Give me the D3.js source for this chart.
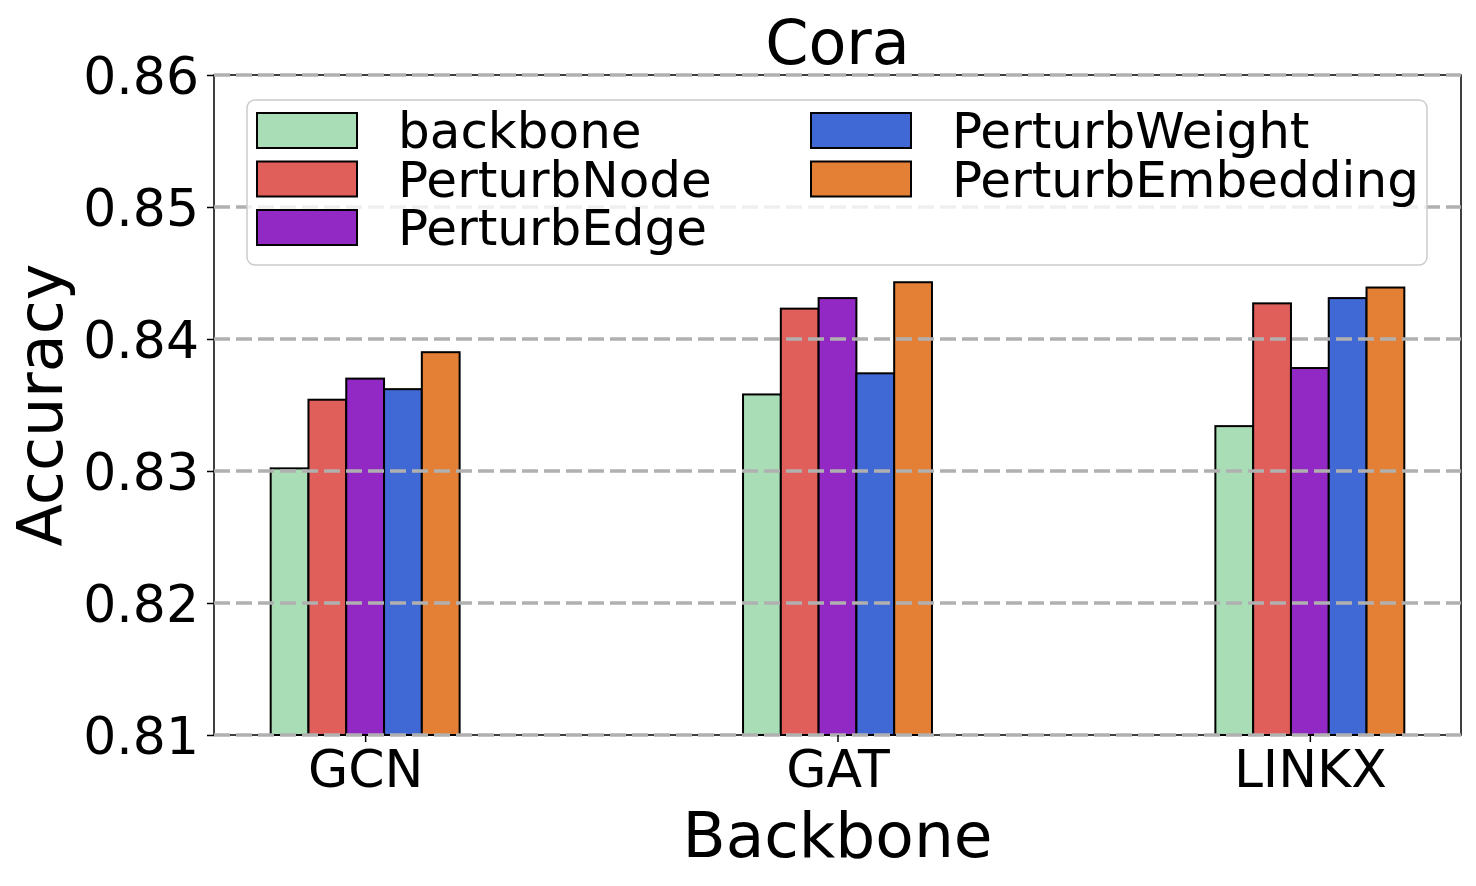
<!DOCTYPE html>
<html lang="en">
<head>
<meta charset="utf-8">
<title>Cora</title>
<script src="https://cdn.jsdelivr.net/npm/d3@7/dist/d3.min.js"></script>
<style>
  body { margin: 0; background: #fff; }
  svg text { font-family: "DejaVu Sans", sans-serif; fill: #000; }
</style>
</head>
<body>
<script>
// data
var backbones = ["GCN", "GAT", "LINKX"];
var methods = ["backbone", "PerturbNode", "PerturbEdge", "PerturbWeight", "PerturbEmbedding"];
var colors = ["#a8ddb5", "#e15f5a", "#9329c5", "#4169d6", "#e38035"];
var backboneVals = [0.8302, 0.8358, 0.8334];
var nodeVals = [0.8354, 0.8423, 0.8427];
var edgeVals = [0.8370, 0.8431, 0.8378];
var weightVals = [0.8362, 0.8374, 0.8431];
var embedVals = [0.8390, 0.8443, 0.8439];
var yTicks = [0.81, 0.82, 0.83, 0.84, 0.85, 0.86];

var series = [backboneVals, nodeVals, edgeVals, weightVals, embedVals];

var w = 1476, h = 886;
var plotL = 214, plotR = 1461, plotT = 75, plotB = 735;
var barW = 0.08;

var svg = d3.select("body").append("svg")
    .attr("width", w)
    .attr("height", h);

var x = d3.scaleLinear().domain([-0.32, 2.32]).range([plotL, plotR]);
var y = d3.scaleLinear().domain([0.81, 0.86]).range([plotB, plotT]);

// bars
series.forEach(function(vals, j) {
  svg.append("g").selectAll("rect")
    .data(vals)
    .enter()
    .append("rect")
    .attr("x", function(d, i) { return x(i + (j - 2.5) * barW); })
    .attr("width", x(barW) - x(0))
    .attr("y", function(d) { return y(d); })
    .attr("height", function(d) { return y(0.81) - y(d); })
    .attr("fill", colors[j])
    .attr("stroke", "#000")
    .attr("stroke-width", 2);
});

// frame
svg.append("rect")
  .attr("x", plotL).attr("y", plotT)
  .attr("width", plotR - plotL).attr("height", plotB - plotT)
  .attr("fill", "none").attr("stroke", "#000").attr("stroke-width", 1.5);

// grid (drawn over bars)
svg.append("g").selectAll("line")
  .data(yTicks)
  .enter()
  .append("line")
  .attr("x1", plotL).attr("x2", plotR)
  .attr("y1", function(d) { return y(d); })
  .attr("y2", function(d) { return y(d); })
  .attr("stroke", "#b0b0b0")
  .attr("stroke-width", 3.5)
  .attr("stroke-dasharray", "16,6");

// axes
var yAxis = d3.axisLeft(y).tickValues(yTicks).tickSize(7).tickPadding(8)
  .tickFormat(d3.format(".2f"));
var gy = svg.append("g").attr("transform", "translate(" + plotL + ",0)").call(yAxis);
gy.select(".domain").remove();
gy.selectAll("line").attr("stroke", "#000").attr("stroke-width", 1.5);
gy.selectAll("text").style("font-size", "52px").attr("dy", "0.36em")
  .style("font-family", "'DejaVu Sans', sans-serif");

var xAxis = d3.axisBottom(x).tickValues([0, 1, 2]).tickSize(7).tickPadding(8)
  .tickFormat(function(d) { return backbones[d]; });
var gx = svg.append("g").attr("transform", "translate(0," + plotB + ")").call(xAxis);
gx.select(".domain").remove();
gx.selectAll("line").attr("stroke", "#000").attr("stroke-width", 1.5);
gx.selectAll("text").style("font-size", "52px").attr("dy", "0.72em")
  .style("font-family", "'DejaVu Sans', sans-serif");

// titles
svg.append("text")
  .attr("x", (plotL + plotR) / 2).attr("y", 64)
  .attr("text-anchor", "middle")
  .style("font-size", "62px")
  .text("Cora");

svg.append("text")
  .attr("x", (plotL + plotR) / 2).attr("y", 857)
  .attr("text-anchor", "middle")
  .style("font-size", "63px")
  .text("Backbone");

svg.append("text")
  .attr("transform", "translate(62," + ((plotT + plotB) / 2) + ") rotate(-90)")
  .attr("text-anchor", "middle")
  .style("font-size", "62px")
  .text("Accuracy");

// legend
var legend = svg.append("g");
legend.append("rect")
  .attr("x", 247).attr("y", 100)
  .attr("width", 1180).attr("height", 165)
  .attr("rx", 8).attr("ry", 8)
  .attr("fill", "#fff").attr("fill-opacity", 0.8)
  .attr("stroke", "#cccccc").attr("stroke-width", 1.5);

var colX = [257, 811];
var textX = [398, 952];
methods.forEach(function(m, j) {
  var col = j < 3 ? 0 : 1;
  var row = j < 3 ? j : j - 3;
  var cy = 113 + row * 48.5;
  legend.append("rect")
    .attr("x", colX[col]).attr("y", cy)
    .attr("width", 100).attr("height", 35)
    .attr("fill", colors[j])
    .attr("stroke", "#000").attr("stroke-width", 2);
  legend.append("text")
    .attr("x", textX[col]).attr("y", cy + 35)
    .style("font-size", "50px")
    .text(m);
});
</script>
</body>
</html>
